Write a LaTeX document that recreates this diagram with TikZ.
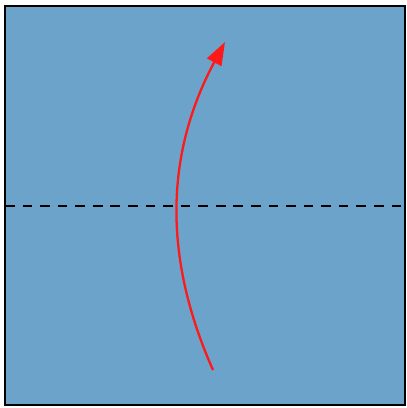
\documentclass[tikz,border=0pt]{standalone}
\usepackage{tikz}
\usetikzlibrary{arrows.meta}
\definecolor{paperblue}{RGB}{108,163,203}
\definecolor{foldred}{RGB}{255,25,25}
\begin{document}
\begin{tikzpicture}[
			x=0.02cm, y=-0.02cm,
			paper/.style={
				draw=black,
				fill=paperblue,
				line width=1.2pt
			},
			fold line/.style={
				draw=black,
				dash pattern=on 5.5pt off 4.5pt,
				line width=1.1pt
			},
			fold arrow/.style={
				draw=foldred,
				line width=1.3pt,
				-{Triangle[length=0.46cm,width=0.32cm]}
			}
			]
			\useasboundingbox (0,0) rectangle (406,408);
			
			\path[paper] (5,6) rectangle (405,405);
			
			\coordinate (fold left) at (5,206);
			\coordinate (fold right) at (405,206);
			\path[fold line] (fold left) -- (fold right);
			
			\coordinate (start) at (213,370);
			\coordinate (tip) at (225,42);
			\path[fold arrow] (start) .. controls (165,262) and (163,158) .. (tip);
			
		\end{tikzpicture}
\end{document}
